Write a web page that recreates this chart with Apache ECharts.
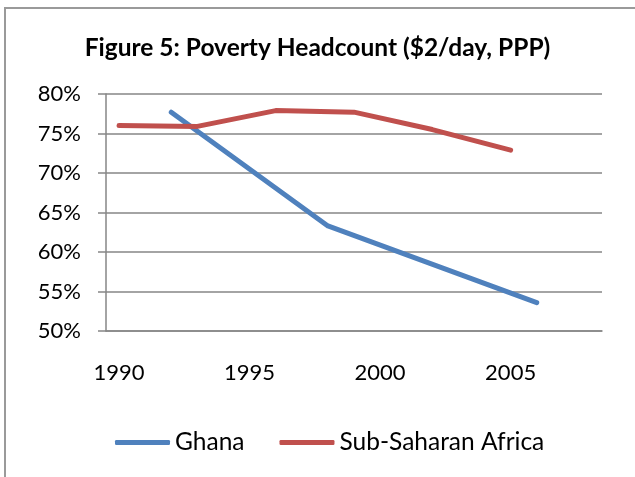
<!DOCTYPE html>
<html>
<head>
<meta charset="utf-8">
<script src="https://cdn.jsdelivr.net/npm/echarts@6/dist/echarts.min.js"></script>
<style>
  html, body { margin: 0; padding: 0; background: #fff; }
  #chart { width: 635px; height: 477px; }
</style>
</head>
<body>
<div id="chart"></div>
<script>
  // years on the category axis (one band per year)
  var years = ['1990', '1991', '1992', '1993', '1994', '1995', '1996', '1997', '1998', '1999',
    '2000', '2001', '2002', '2003', '2004', '2005', '2006', '2007', '2008'];
  // headcount in %, null where no survey
  var ghana = [null, null, 77.7, null, null, null, null, null, 63.3, null,
    null, null, null, null, null, null, 53.6, null, null];
  var ssa = [76.0, null, null, 75.9, null, null, 77.9, null, null, 77.7,
    null, null, 75.5, null, null, 72.9, null, null, null];
  var yTicks = [50, 55, 60, 65, 70, 75, 80];

  var font = 'Lato, "Open Sans", sans-serif';
  var chart = echarts.init(document.getElementById('chart'));

  var option = {
    animation: false,
    backgroundColor: '#fff',
    graphic: [{
      type: 'rect',
      shape: { x: 5, y: 8, width: 660, height: 500 },
      style: { fill: 'none', stroke: '#9a9a9a', lineWidth: 2 },
      silent: true
    }],
    title: {
      text: 'Figure 5: Poverty Headcount ($2/day, PPP)',
      left: 'center',
      top: 31,
      textStyle: { fontFamily: font, fontWeight: 'bold', fontSize: 24.5, color: '#000' }
    },
    legend: {
      bottom: 17,
      left: 110,
      itemWidth: 55,
      itemHeight: 5,
      itemGap: 35,
      icon: 'roundRect',
      textStyle: { fontFamily: font, fontSize: 24.5, color: '#000', padding: [0, 0, 0, 0] },
      data: ['Ghana', 'Sub-Saharan Africa']
    },
    grid: { left: 106, right: 33, top: 94, bottom: 146 },
    xAxis: {
      type: 'category',
      data: years,
      boundaryGap: true,
      axisLine: { lineStyle: { color: '#868686', width: 1.5 } },
      axisTick: { interval: 0, length: 7, lineStyle: { color: '#868686', width: 1.5 } },
      axisLabel: {
        interval: 4,
        margin: 31,
        fontFamily: font,
        fontSize: 22,
        color: '#000'
      },
      splitLine: { show: false }
    },
    yAxis: {
      type: 'value',
      min: yTicks[0],
      max: yTicks[yTicks.length - 1],
      interval: 5,
      axisLine: { show: true, lineStyle: { color: '#868686', width: 1.5 } },
      axisTick: { show: true, length: 8, lineStyle: { color: '#868686', width: 1.5 } },
      axisLabel: {
        formatter: '{value}%',
        margin: 25,
        fontFamily: font,
        fontSize: 22,
        color: '#000'
      },
      splitLine: { lineStyle: { color: '#868686', width: 1.5 } }
    },
    series: [{
      name: 'Ghana',
      type: 'line',
      data: ghana,
      connectNulls: true,
      showSymbol: false,
      symbol: 'none',
      color: '#4F81BD',
      lineStyle: { width: 5, cap: 'round', join: 'round' }
    }, {
      name: 'Sub-Saharan Africa',
      type: 'line',
      data: ssa,
      connectNulls: true,
      showSymbol: false,
      symbol: 'none',
      color: '#C0504D',
      lineStyle: { width: 5, cap: 'round', join: 'round' }
    }]
  };

  chart.setOption(option);
</script>
</body>
</html>
